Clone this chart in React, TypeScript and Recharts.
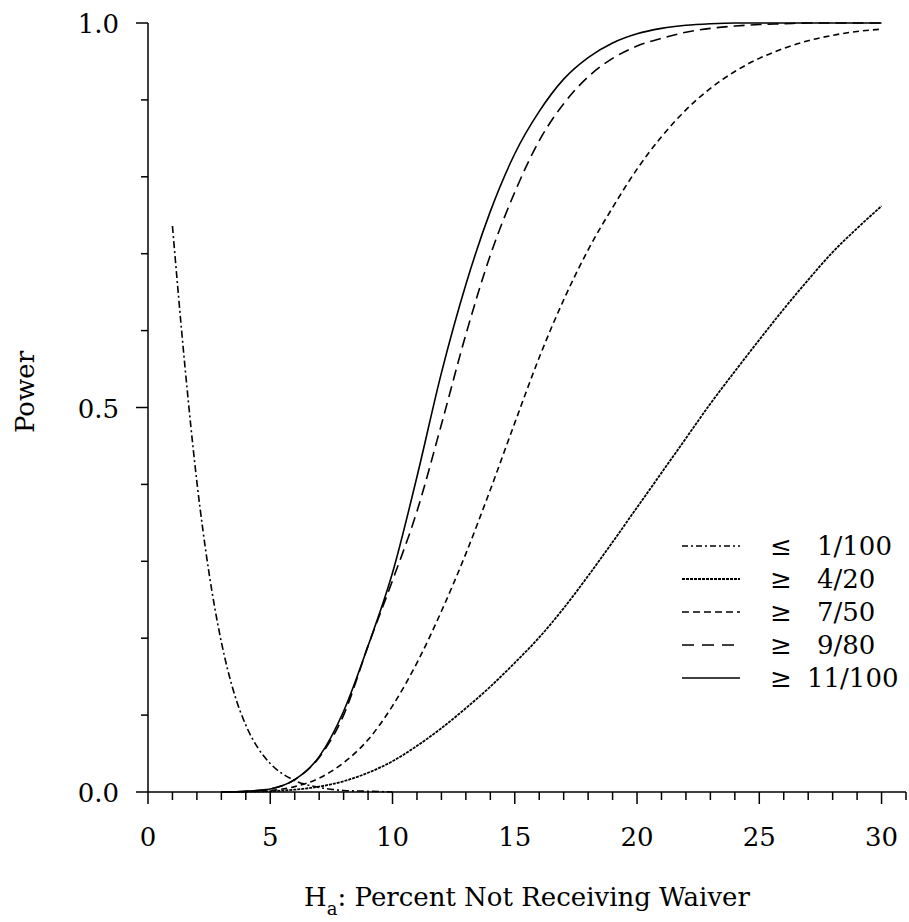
import { LineChart, Line, XAxis, YAxis, Legend } from 'recharts'

// percent not receiving waiver (x) for the "≥" plans
const waiverPct = [3, 4, 5, 6, 7, 8, 9, 10, 11, 12, 13, 14, 15, 16, 17, 18, 19, 20, 21, 22, 23, 24, 25, 26, 27, 28, 29, 30]
const powerGe4of20 = [0, 0.0003, 0.001, 0.003, 0.007, 0.014, 0.025, 0.04, 0.06, 0.083, 0.109, 0.137, 0.168, 0.201, 0.239, 0.281, 0.325, 0.37, 0.415, 0.46, 0.505, 0.547, 0.588, 0.628, 0.666, 0.702, 0.733, 0.762]
const powerGe7of50 = [0, 0.0005, 0.002, 0.007, 0.018, 0.038, 0.068, 0.112, 0.168, 0.235, 0.31, 0.393, 0.48, 0.565, 0.64, 0.705, 0.76, 0.81, 0.852, 0.887, 0.915, 0.937, 0.954, 0.967, 0.977, 0.984, 0.989, 0.992]
const powerGe9of80 = [0, 0.001, 0.004, 0.016, 0.045, 0.1, 0.19, 0.275, 0.365, 0.478, 0.595, 0.698, 0.78, 0.847, 0.895, 0.93, 0.954, 0.97, 0.98, 0.988, 0.993, 0.996, 0.998, 0.999, 1, 1, 1, 1]
const powerGe11of100 = [0, 0.001, 0.004, 0.016, 0.046, 0.105, 0.19, 0.285, 0.41, 0.545, 0.66, 0.755, 0.83, 0.885, 0.927, 0.955, 0.974, 0.986, 0.993, 0.997, 0.999, 1, 1, 1, 1, 1, 1, 1]

// the "≤ 1/100" plan is drawn from 1%
const lowPct = [1, 1.5, 2, 2.5, 3, 3.5, 4, 4.5, 5, 6, 7, 8, 9, 10]
const powerLe1of100 = [0.736, 0.557, 0.403, 0.284, 0.195, 0.131, 0.087, 0.057, 0.037, 0.015, 0.006, 0.002, 0.001, 0]

const xTicks = [0, 1, 2, 3, 4, 5, 6, 7, 8, 9, 10, 11, 12, 13, 14, 15, 16, 17, 18, 19, 20, 21, 22, 23, 24, 25, 26, 27, 28, 29, 30, 31]
const yTicks = [0, 0.1, 0.2, 0.3, 0.4, 0.5, 0.6, 0.7, 0.8, 0.9, 1]

const FONT = '"DejaVu Serif", serif'

const toRows = (xs: number[], ys: number[]) => xs.map((x, i) => ({ x, p: ys[i] }))

const series = [
  { key: 'le1of100', sign: '≤', label: '1/100', dash: '7 3 2 3', legendDash: '6 3 2 3', width: 1.6, data: toRows(lowPct, powerLe1of100) },
  { key: 'ge4of20', sign: '≥', label: '4/20', dash: '3 1', legendDash: '3 1', width: 1.8, data: toRows(waiverPct, powerGe4of20) },
  { key: 'ge7of50', sign: '≥', label: '7/50', dash: '6 4', legendDash: '7 4', width: 1.6, data: toRows(waiverPct, powerGe7of50) },
  { key: 'ge9of80', sign: '≥', label: '9/80', dash: '11 6', legendDash: '12 8', width: 1.6, data: toRows(waiverPct, powerGe9of80) },
  { key: 'ge11of100', sign: '≥', label: '11/100', dash: undefined, legendDash: undefined, width: 1.6, data: toRows(waiverPct, powerGe11of100) },
]

function XTick({ x, y, payload }: any) {
  const v = payload.value
  const major = v % 5 === 0
  return (
    <g>
      <line x1={x} x2={x} y1={y} y2={y + (major ? 12 : 8)} stroke="#000" strokeWidth={1.5} />
      {major && v <= 30 && (
        <text x={x} y={y + 54} textAnchor="middle" fontFamily={FONT} fontSize={26} fill="#000">
          {v}
        </text>
      )}
    </g>
  )
}

function YTick({ x, y, payload }: any) {
  const v = payload.value
  const major = Math.round(v * 10) % 5 === 0
  return (
    <g>
      <line x1={x} x2={x - (major ? 12 : 7)} y1={y} y2={y} stroke="#000" strokeWidth={1.5} />
      {major && (
        <text x={x - 29} y={y + 10} textAnchor="end" fontFamily={FONT} fontSize={26} fill="#000">
          {v.toFixed(1)}
        </text>
      )}
    </g>
  )
}

function LegendBox() {
  return (
    <svg width={240} height={180}>
      {series.map((s, i) => {
        const y = 26 + i * 33
        return (
          <g key={s.key}>
            <line x1={12} x2={70} y1={y} y2={y} stroke="#000" strokeWidth={s.width} strokeDasharray={s.legendDash} />
            <text x={100} y={y + 9} fontFamily={FONT} fontSize={26} fill="#000">{s.sign}</text>
            <text x={s.label === '11/100' ? 137 : 147} y={y + 9} fontFamily={FONT} fontSize={26} fill="#000">
              {s.label}
            </text>
          </g>
        )
      })}
    </svg>
  )
}

export default function App() {
  return (
    <div style={{ position: 'absolute', left: 0, top: 0, width: 909, height: 922, background: '#fff' }}>
      <LineChart width={909} height={922} margin={{ top: 23, right: 3, bottom: 30, left: 0 }}>
        <XAxis
          type="number"
          dataKey="x"
          domain={[0, 31]}
          ticks={xTicks}
          interval={0}
          allowDataOverflow
          height={100}
          tickSize={0}
          tickMargin={0}
          tickLine={false}
          axisLine={{ stroke: '#000', strokeWidth: 1.5 }}
          tick={<XTick />}
          label={{
            content: () => (
              <text x={527} y={906} textAnchor="middle" fontFamily={FONT} fontSize={26} fill="#000">
                <tspan>H</tspan>
                <tspan dy={9} fontSize={18}>a</tspan>
                <tspan dy={-9}>: Percent Not Receiving Waiver</tspan>
              </text>
            ),
          }}
        />
        <YAxis
          type="number"
          domain={[0, 1]}
          ticks={yTicks}
          interval={0}
          width={148}
          tickSize={0}
          tickMargin={0}
          tickLine={false}
          axisLine={{ stroke: '#000', strokeWidth: 1.5 }}
          tick={<YTick />}
          label={{
            content: () => (
              <text x={34} y={392} transform="rotate(-90 34 392)" textAnchor="middle" fontFamily={FONT} fontSize={26} fill="#000">
                Power
              </text>
            ),
          }}
        />
        <Legend
          layout="vertical"
          align="center"
          verticalAlign="middle"
          wrapperStyle={{ position: 'absolute', left: 670, top: 520, width: 240, height: 180 }}
          content={() => <LegendBox />}
        />
        {series.map((s) => (
          <Line
            key={s.key}
            data={s.data}
            dataKey="p"
            name={`${s.sign} ${s.label}`}
            type="monotone"
            stroke="#000"
            strokeWidth={s.width}
            strokeDasharray={s.dash}
            dot={false}
            activeDot={false}
            isAnimationActive={false}
          />
        ))}
      </LineChart>
    </div>
  )
}
